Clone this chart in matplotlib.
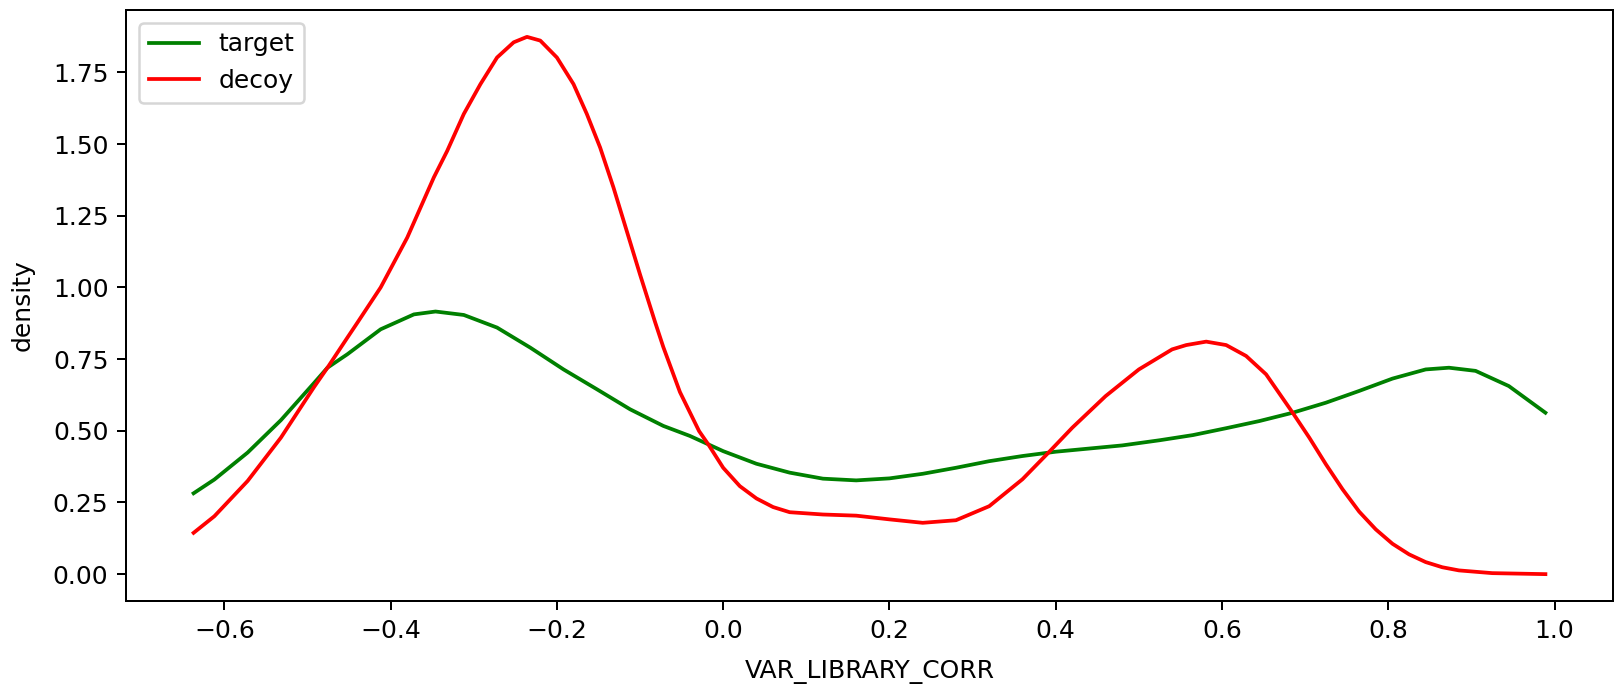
import matplotlib
matplotlib.use("Agg")
import matplotlib.pyplot as plt

target_x = [-0.637, -0.612, -0.572, -0.532, -0.492, -0.476, -0.452, -0.412, -0.372, -0.346,
            -0.312, -0.272, -0.232, -0.192, -0.152, -0.112, -0.072, -0.040, 0.000, 0.040,
            0.080, 0.120, 0.160, 0.200, 0.240, 0.280, 0.320, 0.360, 0.400, 0.440,
            0.480, 0.525, 0.565, 0.605, 0.645, 0.685, 0.725, 0.765, 0.805, 0.845,
            0.873, 0.905, 0.945, 0.989]
target_y = [0.282, 0.330, 0.424, 0.537, 0.667, 0.720, 0.767, 0.854, 0.906, 0.916,
            0.904, 0.860, 0.790, 0.714, 0.645, 0.575, 0.517, 0.482, 0.429, 0.385,
            0.354, 0.333, 0.327, 0.334, 0.350, 0.371, 0.394, 0.412, 0.427, 0.438,
            0.449, 0.467, 0.485, 0.509, 0.534, 0.563, 0.598, 0.639, 0.682, 0.714,
            0.720, 0.709, 0.656, 0.563]

decoy_x = [-0.637, -0.612, -0.572, -0.532, -0.492, -0.476, -0.452, -0.440, -0.412, -0.380,
           -0.348, -0.332, -0.312, -0.292, -0.272, -0.252, -0.236, -0.220, -0.200, -0.180,
           -0.164, -0.148, -0.132, -0.116, -0.100, -0.082, -0.072, -0.052, -0.029, -0.018,
           0.000, 0.020, 0.040, 0.060, 0.080, 0.120, 0.160, 0.200, 0.240, 0.280,
           0.320, 0.360, 0.390, 0.420, 0.460, 0.500, 0.540, 0.557, 0.581, 0.605,
           0.629, 0.653, 0.685, 0.705, 0.725, 0.745, 0.765, 0.785, 0.805, 0.825,
           0.845, 0.865, 0.885, 0.925, 0.989]
decoy_y = [0.144, 0.202, 0.325, 0.476, 0.653, 0.720, 0.825, 0.877, 1.000, 1.174,
           1.384, 1.476, 1.605, 1.709, 1.802, 1.855, 1.874, 1.861, 1.802, 1.709,
           1.605, 1.488, 1.349, 1.197, 1.045, 0.880, 0.792, 0.635, 0.499, 0.453,
           0.371, 0.307, 0.264, 0.234, 0.216, 0.208, 0.204, 0.191, 0.179, 0.188,
           0.237, 0.331, 0.420, 0.511, 0.621, 0.714, 0.784, 0.799, 0.811, 0.799,
           0.761, 0.697, 0.563, 0.476, 0.383, 0.296, 0.218, 0.156, 0.106, 0.069,
           0.042, 0.024, 0.013, 0.0035, 0.000]

W, H, DPI = 1614, 686, 180
fig = plt.figure(figsize=(W / DPI, H / DPI), dpi=DPI)
ax = fig.add_axes([126 / W, 1 - 601 / H, (1613 - 126) / W, (601 - 10) / H])

ax.plot(target_x, target_y, color="green", lw=1.5, label="target")
ax.plot(decoy_x, decoy_y, color="red", lw=1.5, label="decoy")

ax.set_xlabel("VAR_LIBRARY_CORR", labelpad=6.8)
ax.set_ylabel("density", labelpad=7.5)
ax.legend(loc="upper left")

fig.savefig("out.png", dpi=DPI)
